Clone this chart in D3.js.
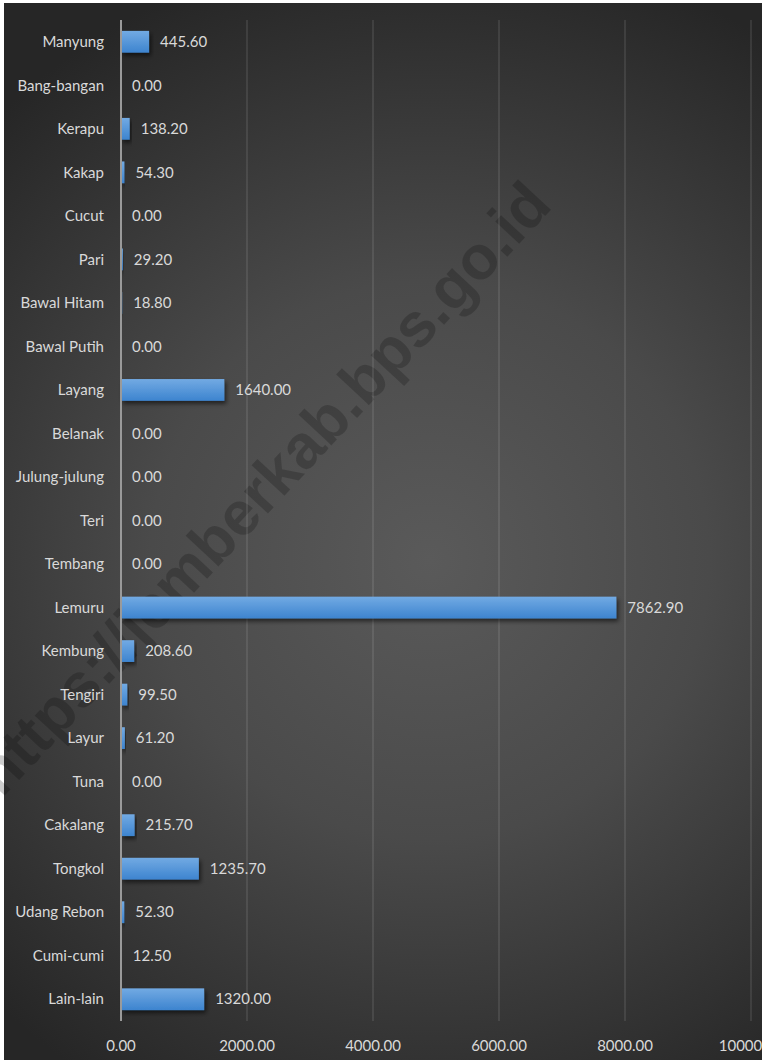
<!DOCTYPE html>
<meta charset="utf-8">
<style>
body { margin: 0; background: #fff; }
.lbl { font-family: Lato, "Open Sans", sans-serif; font-size: 15px; fill: #d9d9d9; }
</style>
<body>
<script src="https://d3js.org/d3.v7.min.js"></script>
<script>

// data
var categories = ["Manyung", "Bang-bangan", "Kerapu", "Kakap", "Cucut", "Pari", "Bawal Hitam",
  "Bawal Putih", "Layang", "Belanak", "Julung-julung", "Teri", "Tembang", "Lemuru", "Kembung",
  "Tengiri", "Layur", "Tuna", "Cakalang", "Tongkol", "Udang Rebon", "Cumi-cumi", "Lain-lain"];
var values = [445.6, 0, 138.2, 54.3, 0, 29.2, 18.8, 0, 1640, 0, 0, 0, 0, 7862.9, 208.6,
  99.5, 61.2, 0, 215.7, 1235.7, 52.3, 12.5, 1320];
var xTicks = [0, 2000, 4000, 6000, 8000, 10000];
var watermark = "https://jemberkab.bps.go.id";

var W = 762, H = 1060;
var plot = {left: 121, right: 751, top: 20, bottom: 1021};

var svg = d3.select("body").append("svg")
    .attr("width", W)
    .attr("height", H);

var defs = svg.append("defs");

// background radial gradient
var bg = defs.append("radialGradient")
    .attr("id", "bg")
    .attr("gradientUnits", "userSpaceOnUse")
    .attr("cx", 430).attr("cy", 560).attr("r", 620);
bg.append("stop").attr("offset", "0%").attr("stop-color", "#5a5a5a");
bg.append("stop").attr("offset", "45%").attr("stop-color", "#4a4a4a");
bg.append("stop").attr("offset", "100%").attr("stop-color", "#262626");

// bar gradient
var bar = defs.append("linearGradient")
    .attr("id", "bar")
    .attr("x1", 0).attr("y1", 0).attr("x2", 0).attr("y2", 1);
bar.append("stop").attr("offset", "0%").attr("stop-color", "#72aae3");
bar.append("stop").attr("offset", "100%").attr("stop-color", "#3d84cf");

var shadow = defs.append("filter")
    .attr("id", "shadow")
    .attr("x", "-5%").attr("y", "-30%").attr("width", "120%").attr("height", "180%");
shadow.append("feDropShadow")
    .attr("dx", 2).attr("dy", 3)
    .attr("stdDeviation", 2)
    .attr("flood-color", "#000")
    .attr("flood-opacity", 0.55);

svg.append("rect")
    .attr("x", 4).attr("y", 3)
    .attr("width", W - 4).attr("height", H - 3)
    .attr("fill", "url(#bg)");

// watermark
svg.append("text")
    .attr("transform", "translate(262,488) rotate(-47)")
    .attr("text-anchor", "middle")
    .attr("dy", "0.35em")
    .attr("font-family", "Liberation Sans, Arial, sans-serif")
    .attr("font-weight", "bold")
    .attr("font-size", 62)
    .attr("fill", "#000")
    .attr("fill-opacity", 0.2)
    .text(watermark);

// scales
var x = d3.scaleLinear().domain([0, 10000]).range([plot.left, plot.right]);
var y = d3.scaleBand().domain(categories).range([plot.top, plot.bottom])
    .paddingInner(0.5).paddingOuter(0.25);

// gridlines
svg.append("g").selectAll("line")
    .data(xTicks.slice(1))
  .enter().append("line")
    .attr("x1", function(d) { return x(d); })
    .attr("x2", function(d) { return x(d); })
    .attr("y1", plot.top)
    .attr("y2", plot.bottom)
    .attr("stroke", "#fff")
    .attr("stroke-opacity", 0.09)
    .attr("stroke-width", 2);

// bars
svg.append("g").selectAll("rect")
    .data(values)
  .enter().append("rect")
    .attr("x", x(0))
    .attr("y", function(d, i) { return y(categories[i]); })
    .attr("width", function(d) { return x(d) - x(0); })
    .attr("height", y.bandwidth())
    .attr("fill", "url(#bar)")
    .attr("filter", "url(#shadow)");

// vertical axis line
svg.append("line")
    .attr("x1", x(0)).attr("x2", x(0))
    .attr("y1", plot.top).attr("y2", plot.bottom)
    .attr("stroke", "#9a9a9a")
    .attr("stroke-width", 2);

// category labels
svg.append("g").selectAll("text")
    .data(categories)
  .enter().append("text")
    .attr("class", "lbl")
    .attr("x", 104)
    .attr("y", function(d) { return y(d) + y.bandwidth() / 2; })
    .attr("dy", "0.35em")
    .attr("text-anchor", "end")
    .text(function(d) { return d; });

// value labels
svg.append("g").selectAll("text")
    .data(values)
  .enter().append("text")
    .attr("class", "lbl")
    .attr("x", function(d) { return x(d) + 11; })
    .attr("y", function(d, i) { return y(categories[i]) + y.bandwidth() / 2; })
    .attr("dy", "0.35em")
    .text(function(d) { return d3.format(".2f")(d); });

// x tick labels
svg.append("g").selectAll("text")
    .data(xTicks)
  .enter().append("text")
    .attr("class", "lbl")
    .attr("x", function(d) { return x(d); })
    .attr("y", 1046)
    .attr("dy", "0.35em")
    .attr("text-anchor", "middle")
    .text(function(d) { return d3.format(".2f")(d); });

</script>
</body>
